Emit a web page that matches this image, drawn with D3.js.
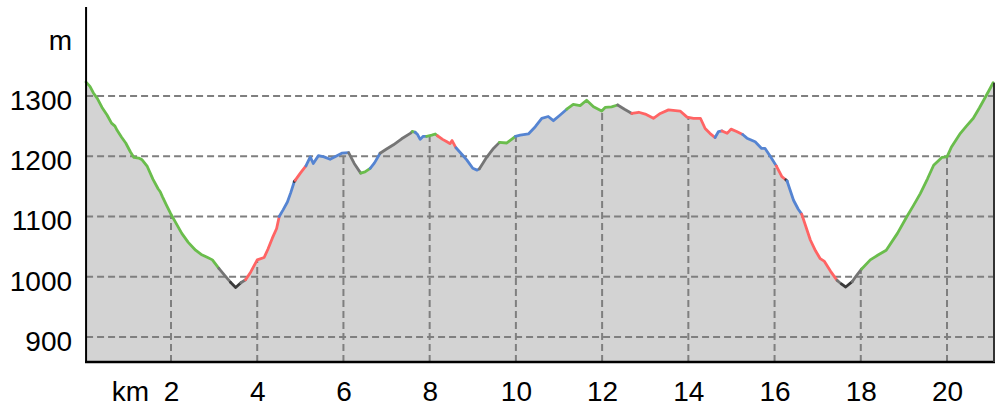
<!DOCTYPE html>
<html>
<head>
<meta charset="utf-8">
<script src="https://cdn.jsdelivr.net/npm/d3@7"></script>
<style>
  body { margin: 0; background: #fff; }
  text { font-family: "Liberation Sans", Arial, sans-serif; font-size: 28px; fill: #000; }
</style>
</head>
<body>
<svg id="chart" width="1002" height="406"></svg>
<script>
// profile points (distance in km, elevation in m)
const kmValues = [0.03, 0.12, 0.20, 0.29, 0.40, 0.52, 0.62, 0.70, 0.75, 0.85, 0.95, 1.06, 1.14, 1.25, 1.33, 1.45,
  1.58, 1.70, 1.75, 1.80, 1.90, 1.99, 2.10, 2.25, 2.40, 2.57, 2.70, 2.85, 2.96, 3.11, 3.25, 3.38, 3.50, 3.62, 3.73,
  3.85, 4.00, 4.16, 4.25, 4.35, 4.45, 4.51, 4.60, 4.70, 4.78, 4.86, 4.88, 5.00, 5.13, 5.23, 5.30, 5.42, 5.55, 5.69,
  5.85, 5.96, 6.12, 6.25, 6.40, 6.50, 6.62, 6.72, 6.85, 7.00, 7.16, 7.35, 7.55, 7.60, 7.66, 7.72, 7.78, 7.85, 7.93,
  8.05, 8.13, 8.18, 8.30, 8.40, 8.47, 8.52, 8.61, 8.75, 8.86, 9.00, 9.10, 9.15, 9.30, 9.48, 9.62, 9.79, 9.90, 9.99,
  10.10, 10.29, 10.45, 10.60, 10.75, 10.87, 11.02, 11.18, 11.33, 11.49, 11.64, 11.80, 11.99, 12.07, 12.22, 12.36,
  12.52, 12.69, 12.85, 13.00, 13.19, 13.35, 13.54, 13.81, 13.97, 14.12, 14.28, 14.39, 14.50, 14.62, 14.70, 14.78,
  14.90, 14.99, 15.12, 15.26, 15.36, 15.55, 15.70, 15.78, 15.90, 16.04, 16.17, 16.26, 16.29, 16.44, 16.55, 16.63,
  16.83, 16.95, 17.06, 17.15, 17.30, 17.45, 17.55, 17.65, 17.80, 17.90, 18.02, 18.22, 18.40, 18.59, 18.85, 19.07,
  19.22, 19.38, 19.55, 19.69, 19.88, 20.00, 20.10, 20.31, 20.45, 20.61, 20.75, 20.85, 20.98, 21.07];
const elevValues = [1323, 1316, 1305, 1296, 1281, 1268, 1255, 1250, 1243, 1232, 1222, 1207, 1198, 1197, 1194, 1183,
  1162, 1146, 1141, 1133, 1118, 1105, 1091, 1072, 1057, 1044, 1037, 1032, 1028, 1014, 1002, 991, 982, 990, 995,
  1008, 1028, 1032, 1046, 1064, 1080, 1100, 1111, 1124, 1140, 1158, 1160, 1172, 1184, 1199, 1188, 1201, 1199, 1195,
  1201, 1205, 1206, 1188, 1172, 1174, 1180, 1189, 1205, 1212, 1219, 1229, 1238, 1241, 1240, 1236, 1228, 1233, 1233,
  1235, 1237, 1234, 1228, 1224, 1221, 1226, 1214, 1203, 1194, 1180, 1177, 1179, 1196, 1213, 1223, 1222, 1228, 1233,
  1235, 1237, 1249, 1263, 1266, 1259, 1268, 1278, 1286, 1284, 1293, 1282, 1275, 1281, 1282, 1285,
  1278, 1271, 1273, 1270, 1263, 1271, 1277, 1275, 1265, 1263, 1263, 1246, 1238, 1231, 1241, 1242,
  1238, 1245, 1241, 1236, 1230, 1224, 1213, 1213, 1200, 1184, 1166, 1161, 1159, 1127, 1112, 1104,
  1061, 1043, 1030, 1026, 1009, 994, 988, 983, 992, 1002, 1013, 1028, 1036, 1044, 1072, 1100,
  1118, 1138, 1163, 1185, 1198, 1199, 1215, 1238, 1250, 1263, 1280, 1293, 1310, 1322];

// coloured stretches of the track
const segBreaks = [0.03, 3.11, 3.38, 3.62, 3.73, 4.51, 4.86, 4.88, 5.13, 6.12, 6.40, 6.62, 6.85, 7.60, 7.66, 7.93,
  8.18, 8.61, 9.15, 9.62, 9.99, 11.18, 12.36, 12.69, 14.62, 14.78, 15.26, 16.04, 16.26, 16.29, 16.63, 17.45, 17.55,
  17.80, 18.02, 21.07];
const segTypes = ["green", "gray", "dark", "gray", "red", "blue", "dark", "red", "blue", "gray", "green", "blue",
  "gray", "green", "blue", "green", "red", "blue", "gray", "green", "blue", "green", "gray", "red", "blue", "red",
  "blue", "red", "dark", "blue", "red", "gray", "dark", "gray", "green"];

const yTicks = [900, 1000, 1100, 1200, 1300];
const xTicks = [2, 4, 6, 8, 10, 12, 14, 16, 18, 20];

const colors = { green: "#6abd4c", gray: "#757575", dark: "#3a3a3a", red: "#ff6464", blue: "#5584d2" };

const data = kmValues.map((k, i) => ({ km: k, elev: elevValues[i] }));

const svg = d3.select("#chart");
const x = d3.scaleLinear().domain([0, 21.09]).range([84.78, 994]);
const y = d3.scaleLinear().domain([858.5, 1447.7]).range([362, 7]);
const bottom = y.range()[0];
const left = x(kmValues[0]);
const right = x.range()[1];

// filled profile
const area = d3.area().x(d => x(d.km)).y0(bottom).y1(d => y(d.elev));
svg.append("path").datum(data).attr("d", area).attr("fill", "#d3d3d3");

// horizontal grid
svg.selectAll(".hgrid").data(yTicks).enter().append("line")
    .attr("x1", left).attr("x2", right)
    .attr("y1", d => y(d)).attr("y2", d => y(d))
    .attr("stroke", "#7f7f7f").attr("stroke-width", 2).attr("stroke-dasharray", "7,4");

// vertical grid up to the profile
const bis = d3.bisector(d => d.km).left;
function elevAt(k) {
  const i = bis(data, k);
  const a = data[i - 1], b = data[i];
  return a.elev + (b.elev - a.elev) * (k - a.km) / (b.km - a.km);
}
svg.selectAll(".vgrid").data(xTicks).enter().append("line")
    .attr("x1", d => x(d)).attr("x2", d => x(d))
    .attr("y1", bottom).attr("y2", d => y(elevAt(d)))
    .attr("stroke", "#7f7f7f").attr("stroke-width", 2).attr("stroke-dasharray", "7,4");

// coloured profile line
const line = d3.line().x(d => x(d.km)).y(d => y(d.elev));
segTypes.forEach((t, i) => {
  const s = segBreaks[i], e = segBreaks[i + 1];
  const pts = data.filter(d => d.km >= s - 1e-9 && d.km <= e + 1e-9);
  svg.append("path").datum(pts).attr("d", line)
      .attr("fill", "none").attr("stroke", colors[t])
      .attr("stroke-width", 2.8).attr("stroke-linejoin", "round").attr("stroke-linecap", "round");
});

// axes frame
svg.append("line").attr("x1", left).attr("x2", left).attr("y1", 7).attr("y2", bottom + 1)
    .attr("stroke", "#000").attr("stroke-width", 2);
svg.append("line").attr("x1", left - 1).attr("x2", right + 1).attr("y1", bottom).attr("y2", bottom)
    .attr("stroke", "#000").attr("stroke-width", 2.5);
svg.append("line").attr("x1", right).attr("x2", right)
    .attr("y1", y(elevValues[elevValues.length - 1])).attr("y2", bottom)
    .attr("stroke", "#333").attr("stroke-width", 2);

// tick labels
const yAxis = svg.append("g").attr("transform", `translate(${left},0)`)
    .call(d3.axisLeft(y).tickValues(yTicks).tickFormat(d3.format("d")).tickSize(0).tickPadding(14));
yAxis.select(".domain").remove();
yAxis.selectAll("text").attr("dy", "0.48em").style("font-size", "28px").style("font-family", null);

const xAxis = svg.append("g").attr("transform", `translate(0,${bottom})`)
    .call(d3.axisBottom(x).tickValues(xTicks).tickSize(0).tickPadding(19));
xAxis.select(".domain").remove();
xAxis.selectAll("text").style("font-size", "28px").style("font-family", null);

svg.append("text").attr("x", left - 14).attr("y", 50).attr("text-anchor", "end").text("m");
svg.append("text").attr("x", x(2) - 22).attr("y", bottom + 39).attr("text-anchor", "end").text("km");
</script>
</body>
</html>
